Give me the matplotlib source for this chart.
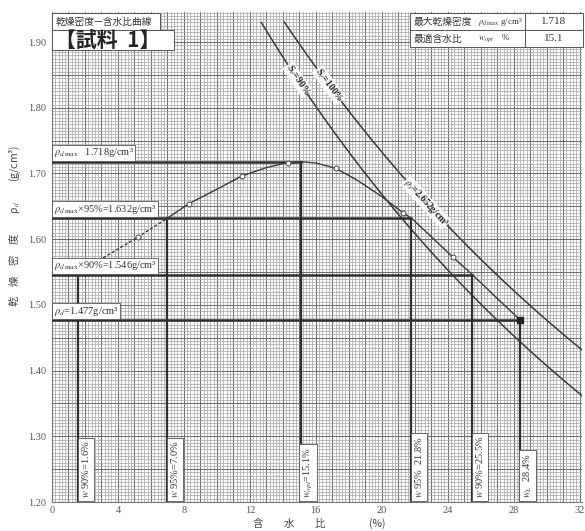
import numpy as np
import matplotlib
matplotlib.use("Agg")
import matplotlib.pyplot as plt
from matplotlib.patches import Rectangle

plt.rcParams['font.family'] = ['Liberation Serif', 'Noto Sans CJK JP', 'DejaVu Serif']
plt.rcParams['mathtext.fontset'] = 'stix'

# ---- compaction test data ----
w_pts = [5.2, 8.3, 11.5, 14.3, 17.2, 21.3, 24.3]
rho_pts = [1.603, 1.654, 1.696, 1.716, 1.708, 1.640, 1.573]

# compaction curve as drawn (dry side below 7 % is extrapolated)
curve_w = [1.6, 2.6, 4.0, 5.2, 7.0, 8.3, 10.0, 11.5, 13.0, 14.2, 15.1, 16.0,
           17.2, 18.5, 20.0, 21.3, 21.8, 23.0, 24.3, 25.5, 27.0, 28.4]
curve_rho = [1.546, 1.564, 1.585, 1.603, 1.632, 1.654, 1.676, 1.696, 1.709,
             1.716, 1.718, 1.716, 1.708, 1.690, 1.665, 1.640, 1.632, 1.604,
             1.573, 1.546, 1.510, 1.477]
dashed_until = 7.0

# saturation curves
rho_s = 2.652
rho_w = 1.0
sr_levels = [90, 100]
sr_w_start = [12.7, 14.1]

# reference densities and water contents
rho_max, w_opt = 1.718, 15.1
rho_levels = [1.718, 1.632, 1.546, 1.477]
rho_level_w_end = [15.1, 21.8, 25.5, 28.4]
rho_labels = [r"$\rho_{d\,\max}$   1.718g/cm³",
              r"$\rho_{d\,\max}$×95%=1.632g/cm³",
              r"$\rho_{d\,\max}$×90%=1.546g/cm³",
              r"$\rho_{d}$=1.477g/cm³"]
w_marks = [1.6, 7.0, 15.1, 21.8, 25.5, 28.4]
w_mark_rho = [1.546, 1.632, 1.718, 1.632, 1.546, 1.477]
w_labels = [r"$w$ 90%=1.6%", r"$w$ 95%=7.0%", r"$w_{opt}$=15.1%",
            r"$w$ 95%  21.8%", r"$w$ 90%=25.5%", r"$w_{L}$  28.4%"]

x_ticks = [0, 4, 8, 12, 16, 20, 24, 28, 32]
y_ticks = [1.20, 1.30, 1.40, 1.50, 1.60, 1.70, 1.80, 1.90]

W, H = 585, 531
fig = plt.figure(figsize=(W / 100, H / 100), dpi=100)
fig.patch.set_facecolor('white')


def fx(px):
    return px / W


def fy(py):
    return 1 - py / H


ax = fig.add_axes([fx(52), fy(502), fx(582) - fx(52), fy(12) - fy(502)])
ax.set_xlim(0, 32.15)
ax.set_ylim(1.20, 1.9458)

# graph-paper grid
ink = '#3a3a3a'
for xv in np.arange(0, 32.2, 0.2):
    major = abs(xv - round(xv)) < 1e-6
    ax.axvline(xv, color='#6e6e6e' if major else '#a4a4a4',
               lw=0.75 if major else 0.5, zorder=0)
for yv in np.arange(1.20, 1.95, 0.005):
    major = abs(yv * 20 - round(yv * 20)) < 1e-6
    ax.axhline(yv, color='#6e6e6e' if major else '#a4a4a4',
               lw=0.75 if major else 0.5, zorder=0)

# saturation curves
for sr, w0 in zip(sr_levels, sr_w_start):
    ww = np.linspace(w0, 32.15, 200)
    rr = rho_w / (1 / rho_s + ww / sr)
    ax.plot(ww, rr, color=ink, lw=1.1, zorder=3)

# reference lines
for r, we in zip(rho_levels, rho_level_w_end):
    ax.plot([0, we], [r, r], color='#2e2e2e', lw=1.8, zorder=4)
for wm, rm in zip(w_marks, w_mark_rho):
    ax.plot([wm, wm], [1.20, rm], color='#2e2e2e', lw=1.6, zorder=4)
ax.plot([28.4], [1.477], marker='s', ms=4, color='#222', zorder=6)

# compaction curve
cw = np.array(curve_w)
cr = np.array(curve_rho)
k = int(np.searchsorted(cw, dashed_until)) + 1
ax.plot(cw[:k], cr[:k], color=ink, lw=1.0, ls=(0, (2.2, 1.4)), zorder=5)
ax.plot(cw[k - 1:], cr[k - 1:], color=ink, lw=1.0, zorder=5)
ax.plot(w_pts, rho_pts, 'o', ms=3.5, mfc='white', mec='#555', mew=0.8, zorder=6)

# labels on reference lines
for r, lab in zip(rho_levels, rho_labels):
    ax.text(0.12, r + 0.0035, lab, fontsize=7.5, color='#333', ha='left',
            va='bottom', zorder=8,
            bbox=dict(facecolor='white', edgecolor='#555', lw=0.6,
                      boxstyle='square,pad=0.15'))
for wm, lab in zip(w_marks, w_labels):
    ax.text(wm + 0.45, 1.206, lab, fontsize=7.5, color='#333', ha='center',
            va='bottom', rotation=90, zorder=8,
            bbox=dict(facecolor='white', edgecolor='#555', lw=0.6,
                      boxstyle='square,pad=0.25'))


# labels along the saturation curves
def line_angle(sr, w):
    p1 = ax.transData.transform((w - 0.3, rho_w / (1 / rho_s + (w - 0.3) / sr)))
    p2 = ax.transData.transform((w + 0.3, rho_w / (1 / rho_s + (w + 0.3) / sr)))
    return np.degrees(np.arctan2(p2[1] - p1[1], p2[0] - p1[0]))


for sr, w, lab in [(90, 14.9, r"S$_r$=90%"), (100, 16.8, r"S$_r$=100%"),
                   (100, 22.7, r"$\rho_s$=2.652g/cm³")]:
    y = rho_w / (1 / rho_s + w / sr)
    ax.text(w, y, lab, fontsize=7, fontweight='bold', color='#222',
            rotation=line_angle(sr, w), rotation_mode='anchor',
            ha='center', va='center', zorder=7,
            bbox=dict(facecolor='white', edgecolor='none', pad=0.3, alpha=0.85))

# axes styling
ax.set_xticks(x_ticks)
ax.set_yticks(y_ticks)
ax.set_xticklabels([str(v) for v in x_ticks])
ax.set_yticklabels([f"{v:.2f}" for v in y_ticks])
ax.tick_params(length=0, labelsize=7.5, colors='#555')
ax.tick_params(axis='x', pad=3)
ax.tick_params(axis='y', pad=4)
for s in ax.spines.values():
    s.set_color('#777')
    s.set_linewidth(0.8)
ax.spines['top'].set_visible(False)
ax.spines['right'].set_visible(False)

# axis titles
cjk = ['Noto Sans CJK JP', 'DejaVu Sans']
fig.text(fx(15), fy(226), "乾　燥　密　度　　ρ$_d$　　(g/cm³)", rotation=90,
         ha='center', va='center', fontsize=7.5, color='#444', family=cjk)
for px, t in [(258, "含"), (289, "水"), (320, "比"), (377, "(%)")]:
    fig.text(fx(px), fy(524), t, ha='center', va='center', fontsize=7.5,
             color='#444', family=cjk)

# title block
for (x0, y0, x1, y1) in [(52, 13, 160, 30), (52, 30, 174, 50)]:
    fig.patches.append(Rectangle((fx(x0), fy(y1)), fx(x1) - fx(x0), fy(y0) - fy(y1),
                                 transform=fig.transFigure, facecolor='white',
                                 edgecolor='#555', lw=0.7, zorder=10))
fig.text(fx(56), fy(21.5), "乾燥密度—含水比曲線", fontsize=7, color='#333',
         ha='left', va='center', zorder=11, family=cjk)
fig.text(fx(55), fy(40.5), "【試料  1】", fontsize=15, fontweight='bold', color='#222',
         ha='left', va='center', zorder=11, family=cjk)

# result table
tx0, tx1, tx2 = 410, 525, 583
ty0, ty1, ty2 = 13, 30, 47
fig.patches.append(Rectangle((fx(tx0), fy(ty2)), fx(tx2) - fx(tx0), fy(ty0) - fy(ty2),
                             transform=fig.transFigure, facecolor='white',
                             edgecolor='#555', lw=0.7, zorder=10))
fig.add_artist(plt.Line2D([fx(tx0), fx(tx2)], [fy(ty1), fy(ty1)],
                          color='#555', lw=0.7, zorder=11))
fig.add_artist(plt.Line2D([fx(tx1), fx(tx1)], [fy(ty0), fy(ty2)],
                          color='#555', lw=0.7, zorder=11))
fig.text(fx(414), fy(21.5), "最大乾燥密度", fontsize=7, color='#333', ha='left',
         va='center', zorder=12, family=cjk)
fig.text(fx(478), fy(21.5), r"$\rho_{d\,\max}$ g/cm³", fontsize=6.5, color='#333',
         ha='left', va='center', zorder=12)
fig.text(fx(414), fy(38.5), "最適含水比", fontsize=7, color='#333', ha='left',
         va='center', zorder=12, family=cjk)
fig.text(fx(478), fy(38.5), r"$w_{opt}$    %", fontsize=6.5, color='#333',
         ha='left', va='center', zorder=12)
fig.text(fx(554), fy(21.5), f"{rho_max:.3f}", fontsize=8, color='#333',
         ha='center', va='center', zorder=12)
fig.text(fx(554), fy(38.5), f"{w_opt:.1f}", fontsize=8, color='#333',
         ha='center', va='center', zorder=12)

fig.savefig("out.png", dpi=100, facecolor='white')
